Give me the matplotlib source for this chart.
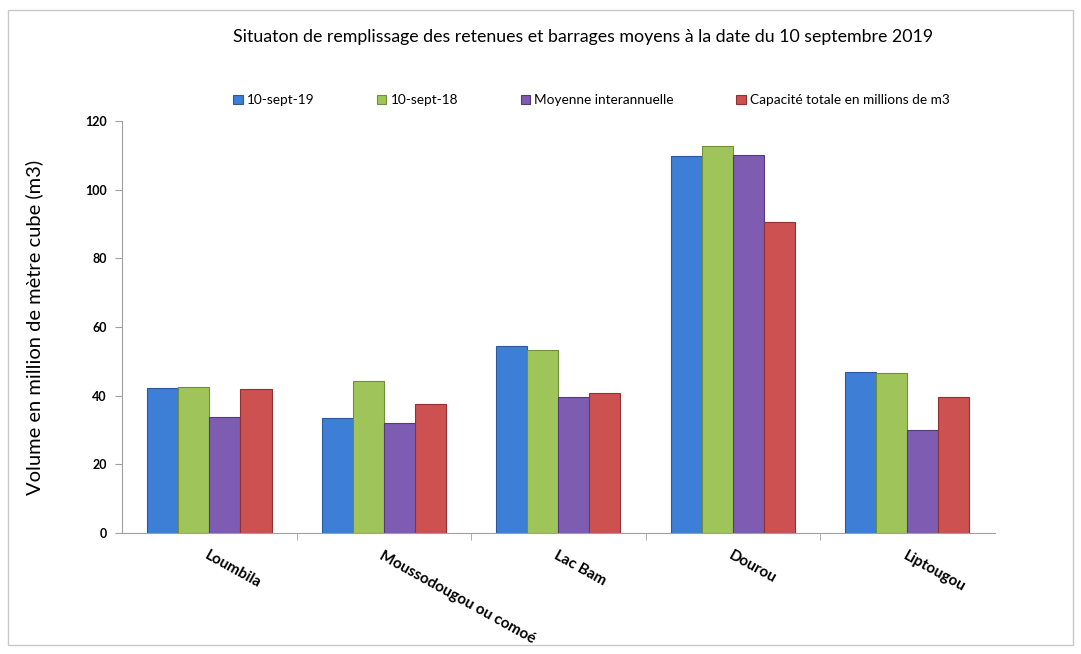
import numpy as np
import matplotlib
matplotlib.use('Agg')
import matplotlib.pyplot as plt
from matplotlib.patches import Rectangle

plt.rcParams['font.family'] = ['Lato', 'DejaVu Sans']

barrages = ['Loumbila', 'Moussodougou ou comoé', 'Lac Bam', 'Dourou', 'Liptougou']
series_names = ['10-sept-19', '10-sept-18', 'Moyenne interannuelle',
                'Capacité totale en millions de m3']
sept_19 = [42.2, 33.5, 54.5, 109.8, 46.9]
sept_18 = [42.5, 44.3, 53.3, 112.7, 46.6]
moyenne = [33.8, 32.0, 39.6, 110.1, 30.0]
capacite = [41.9, 37.6, 40.8, 90.6, 39.6]
yticks = [0, 20, 40, 60, 80, 100, 120]

colors = ['#3d7fd6', '#9fc55a', '#7d5cb2', '#cc5150']
edges = ['#2a5a9c', '#6f8f3a', '#54397d', '#8f3231']

fig = plt.figure(figsize=(10.81, 6.54), dpi=100)
ax = fig.add_axes([0.113, 0.185, 0.807, 0.63])

# cadre gris autour du graphique
fig.patches.append(Rectangle((0.007, 0.014), 0.986, 0.971, transform=fig.transFigure,
                             fill=False, edgecolor='#c9c9c9', linewidth=1))

x = np.arange(len(barrages))
w = 0.178
data = [sept_19, sept_18, moyenne, capacite]
for k, vals in enumerate(data):
    ax.bar(x + (k - 1.5) * w, vals, width=w, color=colors[k], edgecolor=edges[k],
           linewidth=0.8, label=series_names[k])

ax.set_xlim(-0.5, len(barrages) - 0.5)
ax.set_ylim(0, 120)
ax.set_yticks(yticks)
ax.set_yticklabels([str(v) for v in yticks], fontsize=9, fontweight='bold')

ax.set_xticks(x)
ax.set_xticklabels(barrages, rotation=-29, ha='left', va='top', rotation_mode='anchor',
                   fontsize=11, fontweight='bold')
ax.tick_params(axis='x', length=0, pad=11)
ax.set_xticks(np.arange(0.5, len(barrages) - 0.5, 1), minor=True)
ax.tick_params(axis='x', which='minor', length=5, color='#a0a0a0')
ax.tick_params(axis='y', length=5, color='#a0a0a0', pad=6)

for s in ['top', 'right']:
    ax.spines[s].set_visible(False)
for s in ['left', 'bottom']:
    ax.spines[s].set_color('#a0a0a0')

ax.set_ylabel('Volume en million de mètre cube (m3)', fontsize=14.5, labelpad=30)

fig.text(0.539, 0.943, 'Situaton de remplissage des retenues et barrages moyens à la date du 10 septembre 2019',
         ha='center', va='center', fontsize=12.8)

fig.legend(loc='center', bbox_to_anchor=(0.547, 0.847), ncol=4, frameon=False,
           fontsize=9.8, handlelength=0.7, handleheight=0.7, handletextpad=0.3,
           columnspacing=4.6)

fig.savefig('out.png', dpi=100)
